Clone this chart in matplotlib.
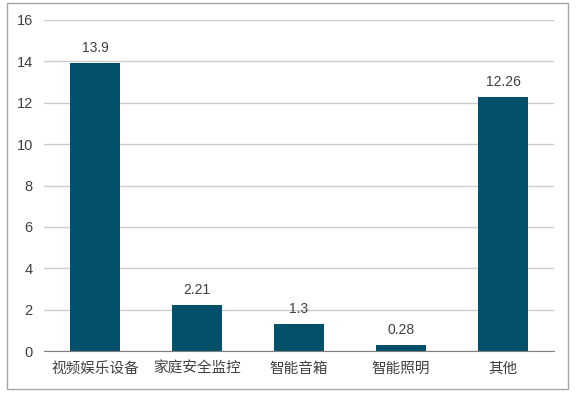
import matplotlib.pyplot as plt
from matplotlib.patches import Rectangle

plt.rcParams['font.family'] = ['Noto Sans CJK SC', 'DejaVu Sans']

categories = ['视频娱乐设备', '家庭安全监控', '智能音箱', '智能照明', '其他']
values = [13.9, 2.21, 1.3, 0.28, 12.26]
value_labels = ['13.9', '2.21', '1.3', '0.28', '12.26']
yticks = [0, 2, 4, 6, 8, 10, 12, 14, 16]

bar_color = '#03506b'
text_color = '#404040'

fig = plt.figure(figsize=(5.78, 3.96), dpi=100)
ax = fig.add_axes([0.0761, 0.1136, 0.8824, 0.8359])

x = range(len(categories))
bars = ax.bar(x, values, width=0.49, color=bar_color, zorder=3)

for bar, lab in zip(bars, value_labels):
    ax.annotate(lab, (bar.get_x() + bar.get_width() / 2, bar.get_height()),
                xytext=(0, 6), textcoords='offset points',
                ha='center', va='bottom', fontsize=10, color=text_color,
                family=['Liberation Sans', 'DejaVu Sans'])

ax.set_xlim(-0.5, len(categories) - 0.5)
ax.set_ylim(0, 16)
ax.set_yticks(yticks)
ax.set_yticklabels([str(t) for t in yticks], family=['Liberation Sans', 'DejaVu Sans'],
                   fontsize=10.5, color=text_color)
ax.set_xticks(list(x))
ax.set_xticklabels(categories, fontsize=10.5, color=text_color)
ax.tick_params(axis='both', length=0)
ax.tick_params(axis='y', pad=8)
ax.tick_params(axis='x', pad=8)

ax.grid(axis='y', color='#cccccc', linewidth=1, zorder=0)
for side in ['top', 'right', 'left']:
    ax.spines[side].set_visible(False)
ax.spines['bottom'].set_color('#7f7f7f')
ax.spines['bottom'].set_zorder(4)

# outer frame
fig.patches.append(Rectangle((7 / 578, 1 - 389 / 396), 561 / 578, 386 / 396,
                             transform=fig.transFigure, fill=False,
                             edgecolor='#a6a6a6', linewidth=1))

plt.savefig('out.png', dpi=100)
